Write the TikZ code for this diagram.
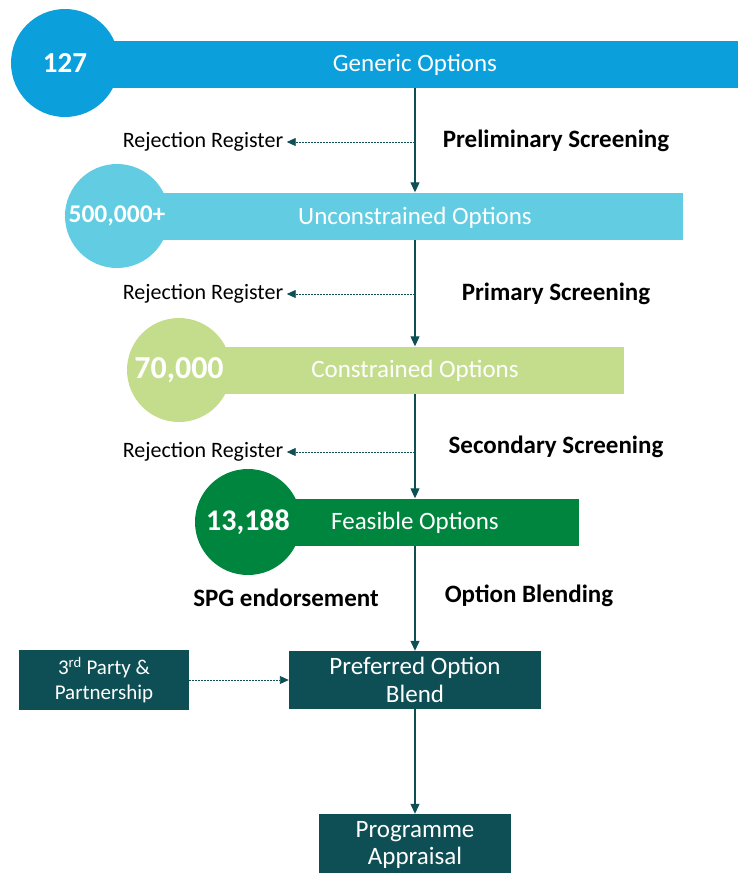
\documentclass[tikz,border=0pt]{standalone}
\usepackage{fontspec}
\setmainfont{Carlito}
\usetikzlibrary{arrows.meta, positioning}

\definecolor{genblue}{HTML}{0B9FDB}
\definecolor{unconblue}{HTML}{62CCE2}
\definecolor{congreen}{HTML}{C4DD8C}
\definecolor{feasgreen}{HTML}{00853E}
\definecolor{darkteal}{HTML}{0E4F55}

\tikzset{
  bar/.style={rectangle, inner sep=0pt, anchor=west, minimum height=47pt},
  disc/.style={circle, inner sep=0pt, text=white, font=\bfseries\fontsize{30}{32}\selectfont},
  bartext/.style={text=white, font=\fontsize{25}{28}\selectfont},
  stage/.style={font=\bfseries\fontsize{25}{28}\selectfont},
  tealbox/.style={rectangle, fill=darkteal, text=white, align=center, inner sep=0pt},
  flow/.style={draw=darkteal, line width=1.1pt, -{Triangle[length=10pt,width=9pt]}},
  reject/.style={draw=darkteal, line width=0.9pt, dash pattern=on 2pt off 1pt, -{Triangle[length=9pt,width=8pt]}}
}

\begin{document}
\begin{tikzpicture}[x=1pt, y=-1pt]
\useasboundingbox (0,0) rectangle (742,873);

% stages
\node [bar, fill=genblue, minimum width=673pt] (genbar) at (65,64) {};
\node [disc, fill=genblue, minimum size=108pt, font=\bfseries\fontsize{29}{32}\selectfont] (gendisc) at (65,63) {127};
\node [bartext] (gentxt) at (415,65) {Generic Options};

\node [bar, fill=unconblue, minimum width=565pt] (unconbar) at (118,216) {};
\node [disc, fill=unconblue, minimum size=104pt, font=\bfseries\fontsize{25.5}{28}\selectfont] (uncondisc) at (117,216) {500,000+};
\node [bartext] (uncontxt) at (415,218) {Unconstrained Options};

\node [bar, fill=congreen, minimum width=445pt] (conbar) at (179,370) {};
\node [disc, fill=congreen, minimum size=104pt, font=\bfseries\fontsize{32}{34}\selectfont] (condisc) at (179,370) {70,000};
\node [bartext] (contxt) at (415,371) {Constrained Options};

\node [bar, fill=feasgreen, minimum width=331pt] (feasbar) at (248,522) {};
\node [disc, fill=feasgreen, minimum size=106pt] (feasdisc) at (248,522) {13,188};
\node [bartext] (feastxt) at (415,523) {Feasible Options};

% screening labels
\node [stage] (prelim) at (556,141) {Preliminary Screening};
\node [stage] (primary) at (556,294) {Primary Screening};
\node [stage] (secondary) at (556,447) {Secondary Screening};
\node [stage] (blending) at (529,596) {Option Blending};
\node [stage] (spg) at (286,598) {SPG endorsement};

% boxes
\node [tealbox, minimum width=170pt, minimum height=60pt, font=\fontsize{21}{25}\selectfont] (party) at (104,680) {3\textsuperscript{rd} Party \&\\Partnership};
\node [tealbox, minimum width=252pt, minimum height=58pt, font=\fontsize{25}{27.5}\selectfont] (blend) at (415,680) {Preferred Option\\Blend};
\node [tealbox, minimum width=192pt, minimum height=62pt, font=\fontsize{25}{27.5}\selectfont] (appraisal) at (415,845) {Programme\\Appraisal};

% main flow
\draw [flow] (gentxt |- genbar.south) -- (gentxt |- unconbar.north);
\draw [flow] (gentxt |- unconbar.south) -- (gentxt |- conbar.north);
\draw [flow] (gentxt |- conbar.south) -- (gentxt |- feasbar.north);
\draw [flow] (gentxt |- feasbar.south) -- (blend.north);
\draw [flow] (blend.south) -- (appraisal.north);
\draw [reject] (party.east) -- (blend.west);

% rejections
\foreach \i/\y in {1/142, 2/294, 3/452}
{
	\node [font=\fontsize{22}{25}\selectfont] (rej\i) at (203,\y) {Rejection Register};
	\draw [reject] (gentxt |- rej\i) -- (rej\i.east);
}
\end{tikzpicture}
\end{document}
